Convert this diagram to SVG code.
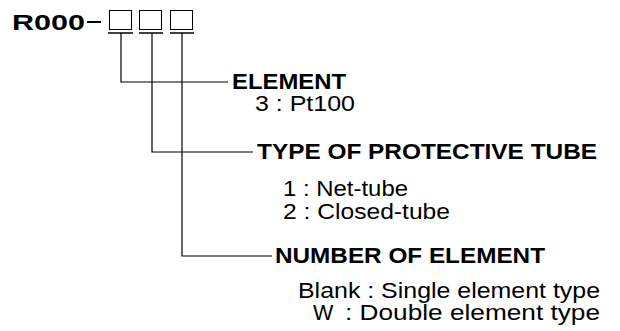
<svg xmlns="http://www.w3.org/2000/svg" width="620" height="331" viewBox="0 0 620 331">
<style>
.b{font-family:"Liberation Sans",Arial,sans-serif;font-weight:bold;font-size:22px;fill:#000}
.r{font-family:"Liberation Sans",Arial,sans-serif;font-size:21.5px;fill:#000}
.ln{stroke:#000;stroke-width:1.2;fill:none}
.box{stroke:#000;stroke-width:1;fill:#fff}
.ul{stroke:#000;stroke-width:1.5}
</style>
<rect width="620" height="331" fill="#fff"/>
<g id="code">
<text class="b" x="12" y="30" textLength="73" lengthAdjust="spacingAndGlyphs">R000</text>
<line x1="87" y1="22" x2="101" y2="22" stroke="#000" stroke-width="2"/>
<rect class="box" x="109.5" y="10.5" width="22" height="19"/>
<rect class="box" x="139.5" y="10.5" width="22" height="19"/>
<rect class="box" x="170.5" y="10.5" width="22" height="19"/>
<line class="ul" x1="108" y1="33" x2="133" y2="33"/>
<line class="ul" x1="139" y1="33" x2="163" y2="33"/>
<line class="ul" x1="170" y1="33" x2="194" y2="33"/>
</g>
<g id="connectors">
<polyline class="ln" points="121,33 121,82 228,82"/>
<polyline class="ln" points="152,33 152,152 253,152"/>
<polyline class="ln" points="182,33 182,256 272,256"/>
</g>
<g id="element">
<text class="b" x="232" y="89" textLength="114" lengthAdjust="spacingAndGlyphs">ELEMENT</text>
<text class="r" x="255" y="111" textLength="100" lengthAdjust="spacingAndGlyphs">3 : Pt100</text>
</g>
<g id="tube">
<text class="b" x="257" y="159" textLength="340" lengthAdjust="spacingAndGlyphs">TYPE OF PROTECTIVE TUBE</text>
<text class="r" x="283" y="196" textLength="125" lengthAdjust="spacingAndGlyphs">1 : Net-tube</text>
<text class="r" x="283" y="219" textLength="167" lengthAdjust="spacingAndGlyphs">2 : Closed-tube</text>
</g>
<g id="number">
<text class="b" x="275" y="263" textLength="270" lengthAdjust="spacingAndGlyphs">NUMBER OF ELEMENT</text>
<text class="r" x="298" y="298" textLength="302" lengthAdjust="spacingAndGlyphs">Blank : Single element type</text>
<text class="r" y="320"><tspan x="313">W</tspan><tspan x="345" textLength="255" lengthAdjust="spacingAndGlyphs">: Double element type</tspan></text>
</g>
</svg>
